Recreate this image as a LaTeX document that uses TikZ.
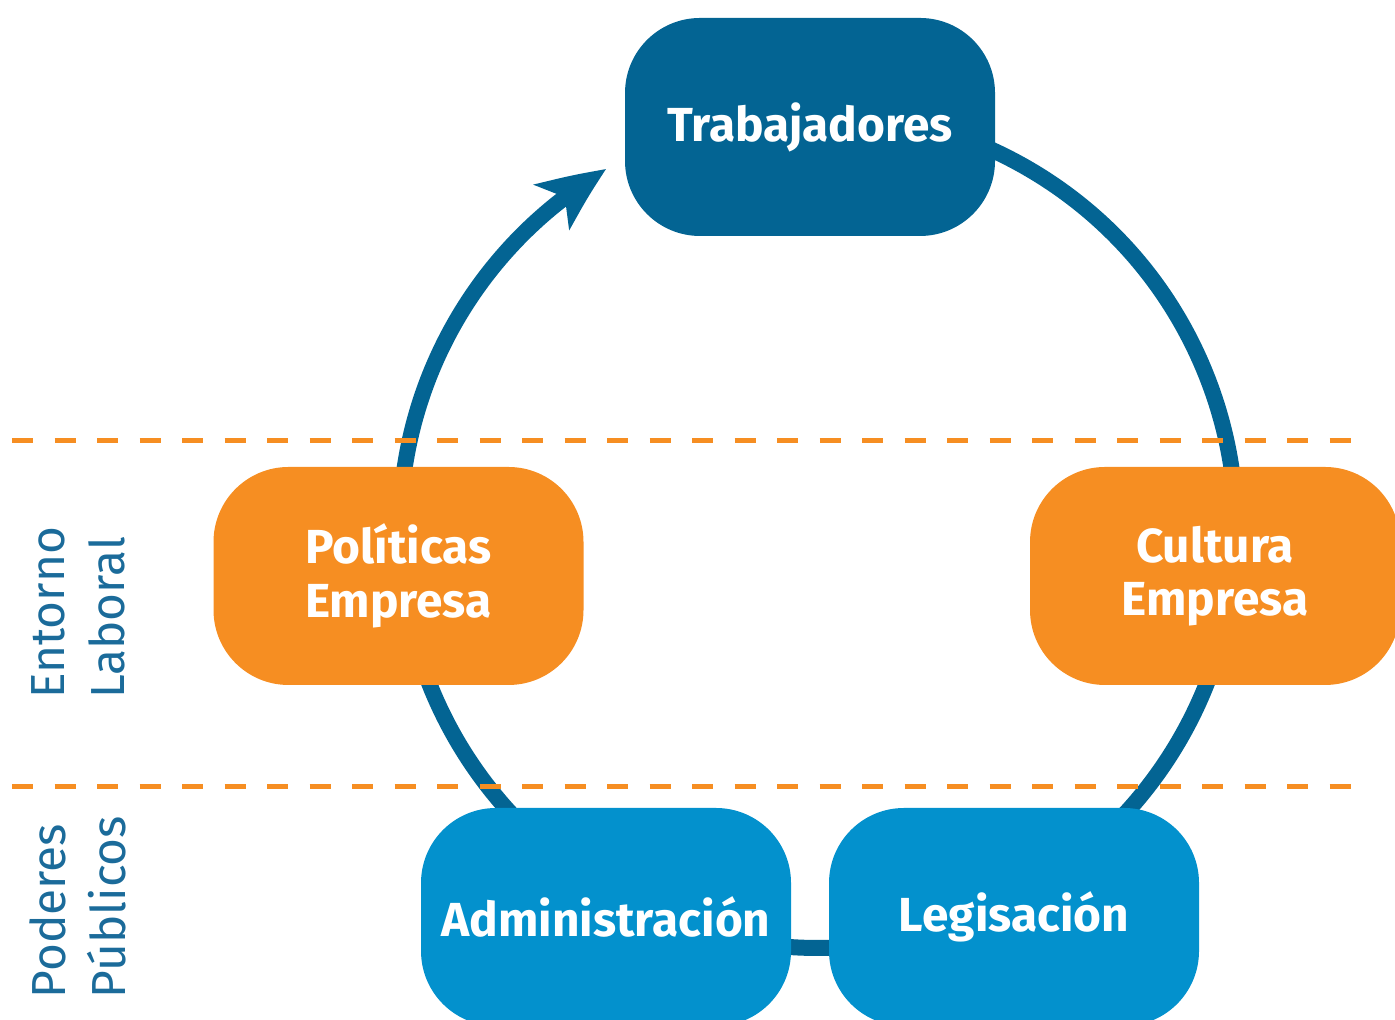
\documentclass[tikz,border=0pt]{standalone}
\usepackage{fontspec}
\setmainfont{Fira Sans}
\usepackage{tikz}
\usetikzlibrary{arrows.meta,bending}
\definecolor{ringblue}{HTML}{036493}
\definecolor{boxcyan}{HTML}{0391CD}
\definecolor{boxorange}{HTML}{F68E22}
\definecolor{labelblue}{HTML}{1B6B9A}

\begin{document}
\begin{tikzpicture}[
  box/.style={rounded corners=.75cm, minimum width=3.7cm, minimum height=2.18cm, inner sep=2pt,
    text=white, align=center, font=\fontsize{13.6}{15.2}\selectfont\bfseries},
  ring/.style={draw=ringblue, line width=.16cm},
  divider/.style={draw=boxorange, line width=.05cm, dash pattern=on .21cm off .215cm},
  side/.style={rotate=90, align=left, text=labelblue, font=\fontsize{13.6}{17}\selectfont}]
  \clip (0,0) rectangle (13.95,10.2);
  \coordinate (hub) at (8.18,4.9);
  % ring behind the boxes
  \draw[ring] (hub) ++(112:4.18) arc[start angle=112, end angle=-170, radius=4.18];
  \draw[ring, -{Stealth[length=.66cm, width=.56cm, inset=.16cm, bend]}] (hub) ++(175:4.18) arc[start angle=175, end angle=120.4, radius=4.18];
  % levels
  \draw[divider] (0.12,5.79) -- (13.55,5.79);
  \draw[divider] (0.12,2.33) -- (13.55,2.33);
  \node[box, fill=ringblue] (trab) at (8.10,8.93) {Trabajadores};
  \node[box, fill=boxorange] (polit) at (3.985,4.44) {Políticas\\Empresa};
  \node[box, fill=boxorange] (cult) at (12.15,4.44) {Cultura\\Empresa};
  \node[box, fill=boxcyan] (admin) at (6.06,1.03) {Administración};
  \node[box, fill=boxcyan] (legis) at (10.14,1.03) {Legisación};
  \node[side] (entorno) at (0.785,4.07) {Entorno\\Laboral};
  \node[side] (poderes) at (0.78,1.13) {Poderes\\Públicos};
\end{tikzpicture}
\end{document}
